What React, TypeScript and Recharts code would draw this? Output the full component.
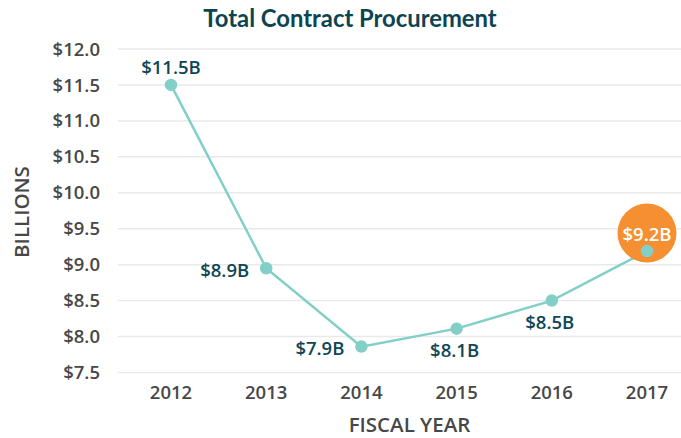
import React from 'react';
import { LineChart, Line, XAxis, YAxis, CartesianGrid, LabelList } from 'recharts';

const years = ['2012', '2013', '2014', '2015', '2016', '2017'];
const procurement = [11.5, 8.95, 7.86, 8.11, 8.5, 9.19];
const valueLabels = ['$11.5B', '$8.9B', '$7.9B', '$8.1B', '$8.5B', '$9.2B'];
const yTicks = [7.5, 8, 8.5, 9, 9.5, 10, 10.5, 11, 11.5, 12];
const highlightIndex = 5;

const labelPlacement = ['top', 'left', 'left', 'bottom', 'bottom', 'highlight'];

const data = years.map((y, i) => ({ year: y, value: procurement[i], label: valueLabels[i] }));

const LINE = '#82cfc8';
const ORANGE = '#f68f31';
const LABEL = '#0e4655';
const GRAY = '#474747';
const FONT = '"Open Sans", sans-serif';

const renderLabel = (props: any) => {
  const { x, y, index, value } = props;
  const p = labelPlacement[index];
  const common = { fontFamily: FONT, fontWeight: 600, fontSize: 18.5, dominantBaseline: 'central' as const };
  if (p === 'top') return <text x={x} y={y - 18} textAnchor="middle" fill={LABEL} {...common}>{value}</text>;
  if (p === 'left') return <text x={x - 17} y={y + 1} textAnchor="end" fill={LABEL} {...common}>{value}</text>;
  if (p === 'bottom') return <text x={x - 2} y={y + 21} textAnchor="middle" fill={LABEL} {...common}>{value}</text>;
  return <text x={x} y={y - 18} textAnchor="middle" fill="#ffffff" {...common}>{value}</text>;
};

const HighlightDot = (props: any) => {
  const { cx, cy, index } = props;
  if (index !== highlightIndex || cx == null) return <g key={`h${index}`} />;
  return <circle key={`h${index}`} cx={cx} cy={cy - 18} r={29.5} fill={ORANGE} />;
};

export default function App() {
  return (
    <div style={{ position: 'absolute', left: 0, top: 0, width: 681, height: 438, background: '#fff' }}>
      <LineChart width={681} height={438} data={data} margin={{ top: 49, right: 0, bottom: 0, left: 0 }}>
        <CartesianGrid horizontal vertical={false} stroke="#e9e9e9" strokeWidth={1.5} />
        <XAxis
          dataKey="year"
          height={65.5}
          axisLine={false}
          tickLine={false}
          padding={{ left: 53, right: 34 }}
          tickMargin={7}
          tick={{ fill: GRAY, fontFamily: FONT, fontWeight: 600, fontSize: 18.5 }}
        />
        <YAxis
          type="number"
          domain={[7.5, 12]}
          ticks={yTicks}
          width={118}
          axisLine={false}
          tickLine={false}
          tickMargin={12}
          tickFormatter={(v: number) => `$${v.toFixed(1)}`}
          tick={{ fill: GRAY, fontFamily: FONT, fontWeight: 600, fontSize: 18.5 }}
        />
        <Line dataKey="value" stroke="none" dot={HighlightDot} activeDot={false} isAnimationActive={false} />
        <Line
          dataKey="value"
          stroke={LINE}
          strokeWidth={2.5}
          dot={{ r: 5.5, fill: LINE, stroke: LINE, strokeWidth: 1.5 }}
          activeDot={false}
          isAnimationActive={false}
        >
          <LabelList dataKey="label" content={renderLabel} />
        </Line>
      </LineChart>
      <div style={{ position: 'absolute', left: 350, top: 18, transform: 'translate(-50%, -50%)', fontFamily: 'Lato, sans-serif', fontWeight: 700, fontSize: 23.8, color: '#0d4452', whiteSpace: 'nowrap', lineHeight: '28px' }}>
        Total Contract Procurement
      </div>
      <div style={{ position: 'absolute', left: 20.5, top: 211.5, transform: 'translate(-50%, -50%) rotate(-90deg)', fontFamily: FONT, fontWeight: 600, fontSize: 20.5, color: GRAY, whiteSpace: 'nowrap', lineHeight: '20px' }}>
        BILLIONS
      </div>
      <div style={{ position: 'absolute', left: 409.5, top: 424, transform: 'translate(-50%, -50%)', fontFamily: FONT, fontWeight: 600, fontSize: 20.5, color: GRAY, whiteSpace: 'nowrap', lineHeight: '20px' }}>
        FISCAL YEAR
      </div>
    </div>
  );
}
